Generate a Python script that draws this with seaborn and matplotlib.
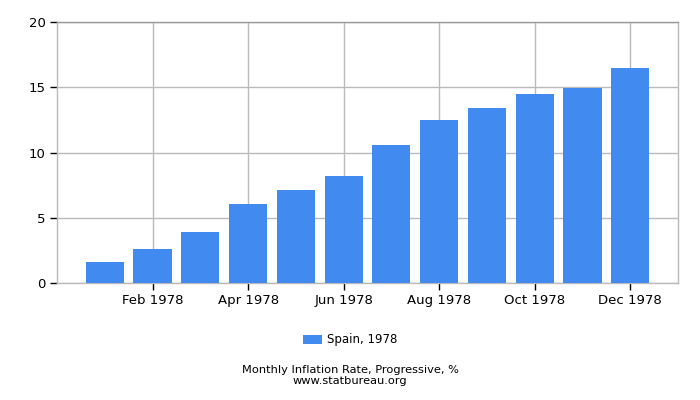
import matplotlib
matplotlib.use("Agg")
import matplotlib.pyplot as plt
import seaborn as sns
import pandas as pd

months = ["Jan 1978", "Feb 1978", "Mar 1978", "Apr 1978", "May 1978", "Jun 1978",
          "Jul 1978", "Aug 1978", "Sep 1978", "Oct 1978", "Nov 1978", "Dec 1978"]
values = [1.61, 2.61, 3.91, 6.06, 7.14, 8.21, 10.59, 12.51, 13.43, 14.50, 14.96, 16.50]
series_name = "Spain, 1978"
yticks = [0, 5, 10, 15, 20]

plt.rcParams.update({
    'font.family': ['DejaVu Sans'],
    'text.color': 'black',
})

df = pd.DataFrame({"month": months, "value": values})

fig = plt.figure(figsize=(7, 4), dpi=100)
ax = fig.add_axes([57/700, 1-283/400, (678-57)/700, (283-22.3)/400])

sns.barplot(data=df, x="month", y="value", color="#418AEF", saturation=1,
            width=0.8, ax=ax, label=series_name, zorder=3, edgecolor="none", linewidth=0)

ax.set_xlim(-1, 12)
ax.set_ylim(0, 20)
ax.set_yticks(yticks)
ax.set_yticklabels([str(t) for t in yticks], fontsize=9.5)
tick_pos = list(range(1, 12, 2))
ax.set_xticks(tick_pos)
ax.set_xticklabels([months[i] for i in tick_pos], fontsize=9.5)
ax.set_xlabel("")
ax.set_ylabel("")
ax.grid(True, color="#BBBBBB", linewidth=1)
ax.set_axisbelow(True)
for s in ["left", "right", "bottom"]:
    ax.spines[s].set_color("#BBBBBB")
ax.spines["top"].set_color("#999999")
for s in ax.spines.values():
    s.set_linewidth(1)
ax.tick_params(axis="both", which="major", bottom=True, left=True, top=False, right=False,
               length=5, width=1, color="black", labelcolor="black", pad=3, direction="out")

ax.legend(loc="center", bbox_to_anchor=(350/700, 1-340/400), bbox_transform=fig.transFigure,
          frameon=False, fontsize=8.5, handlelength=1.6, handleheight=0.8, handletextpad=0.4)

fig.text(0.5, 1-370/400, "Monthly Inflation Rate, Progressive, %", ha="center", va="center", fontsize=8.2)
fig.text(0.5, 1-381.5/400, "www.statbureau.org", ha="center", va="center", fontsize=8.2)

fig.savefig("out.png", dpi=100)
